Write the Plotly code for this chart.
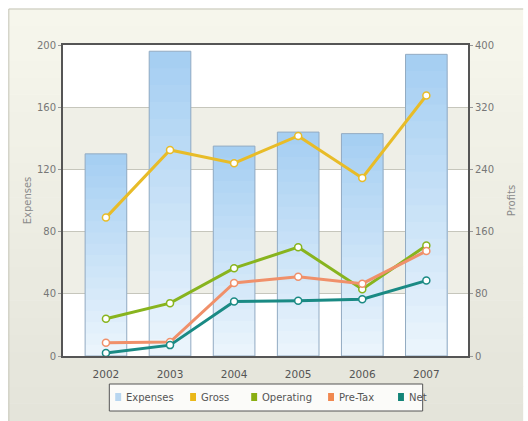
import plotly.graph_objects as go

years = ["2002", "2003", "2004", "2005", "2006", "2007"]
expenses = [130, 196, 135, 144, 143, 194]
gross = [178, 265, 248, 283, 229, 335]
operating = [48, 68, 113, 140, 86, 142]
pre_tax = [17, 18, 94, 102, 93, 135]
net = [4, 14, 70, 71, 73, 97]

left_ticks = [0, 40, 80, 120, 160, 200]
right_ticks = [0, 80, 160, 240, 320, 400]

line_series = [
    ("Gross", gross, "#e8bc28"),
    ("Operating", operating, "#88b41e"),
    ("Pre-Tax", pre_tax, "#f0906a"),
    ("Net", net, "#1a8a84"),
]
legend_names = ["Expenses", "Gross", "Operating", "Pre-Tax", "Net"]
legend_colors = ["#b8d6f0", "#eab81a", "#8aae12", "#f08850", "#128478"]

# pixel geometry of the plotting area, used to place decorations in paper units
PX_L, PX_R, PX_T, PX_B = 63, 474, 45, 356


def px_x(px):
    return (px - PX_L) / (PX_R - PX_L)


def px_y(py):
    return (PX_B - py) / (PX_B - PX_T)


fig = go.Figure()
xs = list(range(len(years)))

# expense columns, shaded from a deeper blue at the top to near white at the base
top_c = (166, 207, 242)
bot_c = (234, 244, 252)
k = 18
for j in range(k):
    frac = (k - j) / k
    t = j / (k - 1)
    c = tuple(round(top_c[i] + (bot_c[i] - top_c[i]) * t) for i in range(3))
    fig.add_trace(go.Bar(
        x=xs, y=[v * frac for v in expenses], width=0.65,
        marker=dict(color="rgb(%d,%d,%d)" % c, line=dict(width=0)),
        showlegend=False, hoverinfo="skip",
    ))
# column outlines
fig.add_trace(go.Bar(
    x=xs, y=expenses, width=0.65, name="Expenses",
    marker=dict(color="rgba(0,0,0,0)", line=dict(color="#93abc2", width=1)),
    showlegend=False, hoverinfo="y",
))

# profit lines on the right axis
for name, vals, col in line_series:
    fig.add_trace(go.Scatter(
        x=xs, y=vals, yaxis="y2", mode="lines+markers",
        line=dict(color=col, width=3),
        marker=dict(size=7, color="white", line=dict(color=col, width=1.5)),
        showlegend=False, name=name,
    ))

shapes = []
annotations = []
# outer panel with a soft vertical gradient
top_rgb = (247, 247, 237)
bot_rgb = (228, 228, 218)
n = 24
y_lo, y_hi = px_y(421), px_y(9)
x_lo, x_hi = px_x(8), px_x(530)
for i in range(n):
    t = i / n
    c = tuple(round(bot_rgb[q] + (top_rgb[q] - bot_rgb[q]) * t) for q in range(3))
    shapes.append(dict(
        type="rect", xref="paper", yref="paper", layer="below",
        x0=x_lo, x1=x_hi,
        y0=y_lo + (y_hi - y_lo) * i / n, y1=y_lo + (y_hi - y_lo) * (i + 1) / n + 0.002,
        fillcolor="rgb(%d,%d,%d)" % c, line=dict(width=0),
    ))
shapes.append(dict(type="line", xref="paper", yref="paper", layer="below",
                   x0=x_lo, x1=x_hi, y0=y_hi, y1=y_hi,
                   line=dict(color="#c4c4b6", width=1)))
shapes.append(dict(type="line", xref="paper", yref="paper", layer="below",
                   x0=x_lo, x1=x_lo, y0=y_lo, y1=y_hi,
                   line=dict(color="#c4c4b6", width=1)))
# plot area background and alternating bands
shapes.append(dict(type="rect", xref="paper", yref="paper", layer="below",
                   x0=0, x1=1, y0=0, y1=1, fillcolor="white", line=dict(width=0)))
for lo, hi in [(40, 80), (120, 160)]:
    shapes.append(dict(type="rect", xref="paper", yref="y", layer="below",
                       x0=0, x1=1, y0=lo, y1=hi, fillcolor="#efefe7",
                       line=dict(width=0)))

# legend box
shapes.append(dict(type="rect", xref="paper", yref="paper",
                   x0=px_x(110), x1=px_x(428), y0=px_y(411), y1=px_y(384),
                   fillcolor="#fbfbf9", line=dict(color="#555555", width=1)))
key_x = [116, 192, 254, 332, 403]
for name, col, kx in zip(legend_names, legend_colors, key_x):
    shapes.append(dict(type="rect", xref="paper", yref="paper",
                       x0=px_x(kx), x1=px_x(kx + 6), y0=px_y(401), y1=px_y(393),
                       fillcolor=col, line=dict(width=0)))
    annotations.append(dict(xref="paper", yref="paper", x=px_x(kx + 9), y=px_y(397),
                            text=name, showarrow=False, xanchor="left", yanchor="middle",
                            font=dict(size=10, color="#555555")))

font = "DejaVu Sans, Verdana, sans-serif"

fig.update_layout(
    width=528, height=421,
    margin=dict(l=PX_L, r=528 - PX_R, t=PX_T, b=421 - PX_B),
    paper_bgcolor="white",
    plot_bgcolor="rgba(0,0,0,0)",
    barmode="overlay",
    showlegend=False,
    shapes=shapes,
    annotations=annotations,
    font=dict(family=font, size=10, color="#666666"),
    xaxis=dict(
        range=[-0.67, 5.65], tickmode="array",
        tickvals=xs, ticktext=years,
        showgrid=False, zeroline=False,
        showline=True, linecolor="#555555", linewidth=2, mirror=True,
        ticks="", ticklabelstandoff=7,
        tickfont=dict(size=10.5, color="#555555"),
    ),
    yaxis=dict(
        range=[0, 200], tickmode="array", tickvals=left_ticks,
        showgrid=True, gridcolor="#c6c6bc", gridwidth=1, zeroline=False,
        showline=True, linecolor="#555555", linewidth=2,
        ticks="outside", ticklen=3, tickcolor="#999999",
        tickfont=dict(size=10, color="#777777"),
        title=dict(text="Expenses", font=dict(size=10, color="#8a8a8a"), standoff=3),
    ),
    yaxis2=dict(
        range=[0, 400], tickmode="array", tickvals=right_ticks,
        overlaying="y", side="right", showgrid=False, zeroline=False,
        showline=True, linecolor="#555555", linewidth=2,
        ticks="outside", ticklen=3, tickcolor="#999999",
        tickfont=dict(size=10, color="#777777"),
        title=dict(text="Profits", font=dict(size=10, color="#8a8a8a"), standoff=15),
    ),
)

fig.write_html("out.html")
